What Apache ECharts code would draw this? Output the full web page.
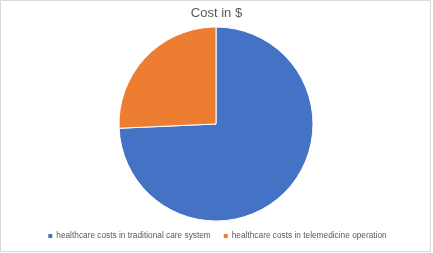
<!DOCTYPE html>
<html>
<head>
<meta charset="utf-8">
<script src="https://cdn.jsdelivr.net/npm/echarts@6/dist/echarts.min.js"></script>
<style>html,body{margin:0;padding:0;background:#fff}#c{width:433px;height:253px}</style>
</head>
<body>
<div id="c"></div>
<script>
var categories = ["healthcare costs in traditional care system", "healthcare costs in telemedicine operation"];
var values = [74.3, 25.7];
var colors = ["#4472C4", "#ED7D31"];
var titleText = "Cost in $";

var chart = echarts.init(document.getElementById('c'), null, {renderer: 'canvas'});
chart.setOption({
  animation: false,
  graphic: [{
    type: 'rect',
    shape: {x: 0.5, y: 0.5, width: 430, height: 251},
    style: {fill: 'none', stroke: '#D9D9D9', lineWidth: 1},
    silent: true
  }],
  title: {
    text: titleText,
    left: 'center',
    top: 2,
    textStyle: {fontFamily: 'Liberation Sans, Arial, sans-serif', fontSize: 13, fontWeight: 'normal', color: '#595959'}
  },
  legend: {
    bottom: 8,
    left: 'center',
    icon: 'rect',
    itemWidth: 6,
    itemHeight: 6,
    itemGap: 11,
    textStyle: {fontFamily: 'Liberation Sans, Arial, sans-serif', fontSize: 8.3, color: '#595959', padding: [0, 0, 0, -2]},
    data: categories
  },
  series: [{
    type: 'pie',
    center: [216, 124],
    radius: 97,
    startAngle: 90,
    clockwise: true,
    label: {show: false},
    labelLine: {show: false},
    itemStyle: {borderColor: '#fff', borderWidth: 1},
    data: categories.map(function (c, i) {
      return {name: c, value: values[i], itemStyle: {color: colors[i]}};
    })
  }]
});
</script>
</body>
</html>
